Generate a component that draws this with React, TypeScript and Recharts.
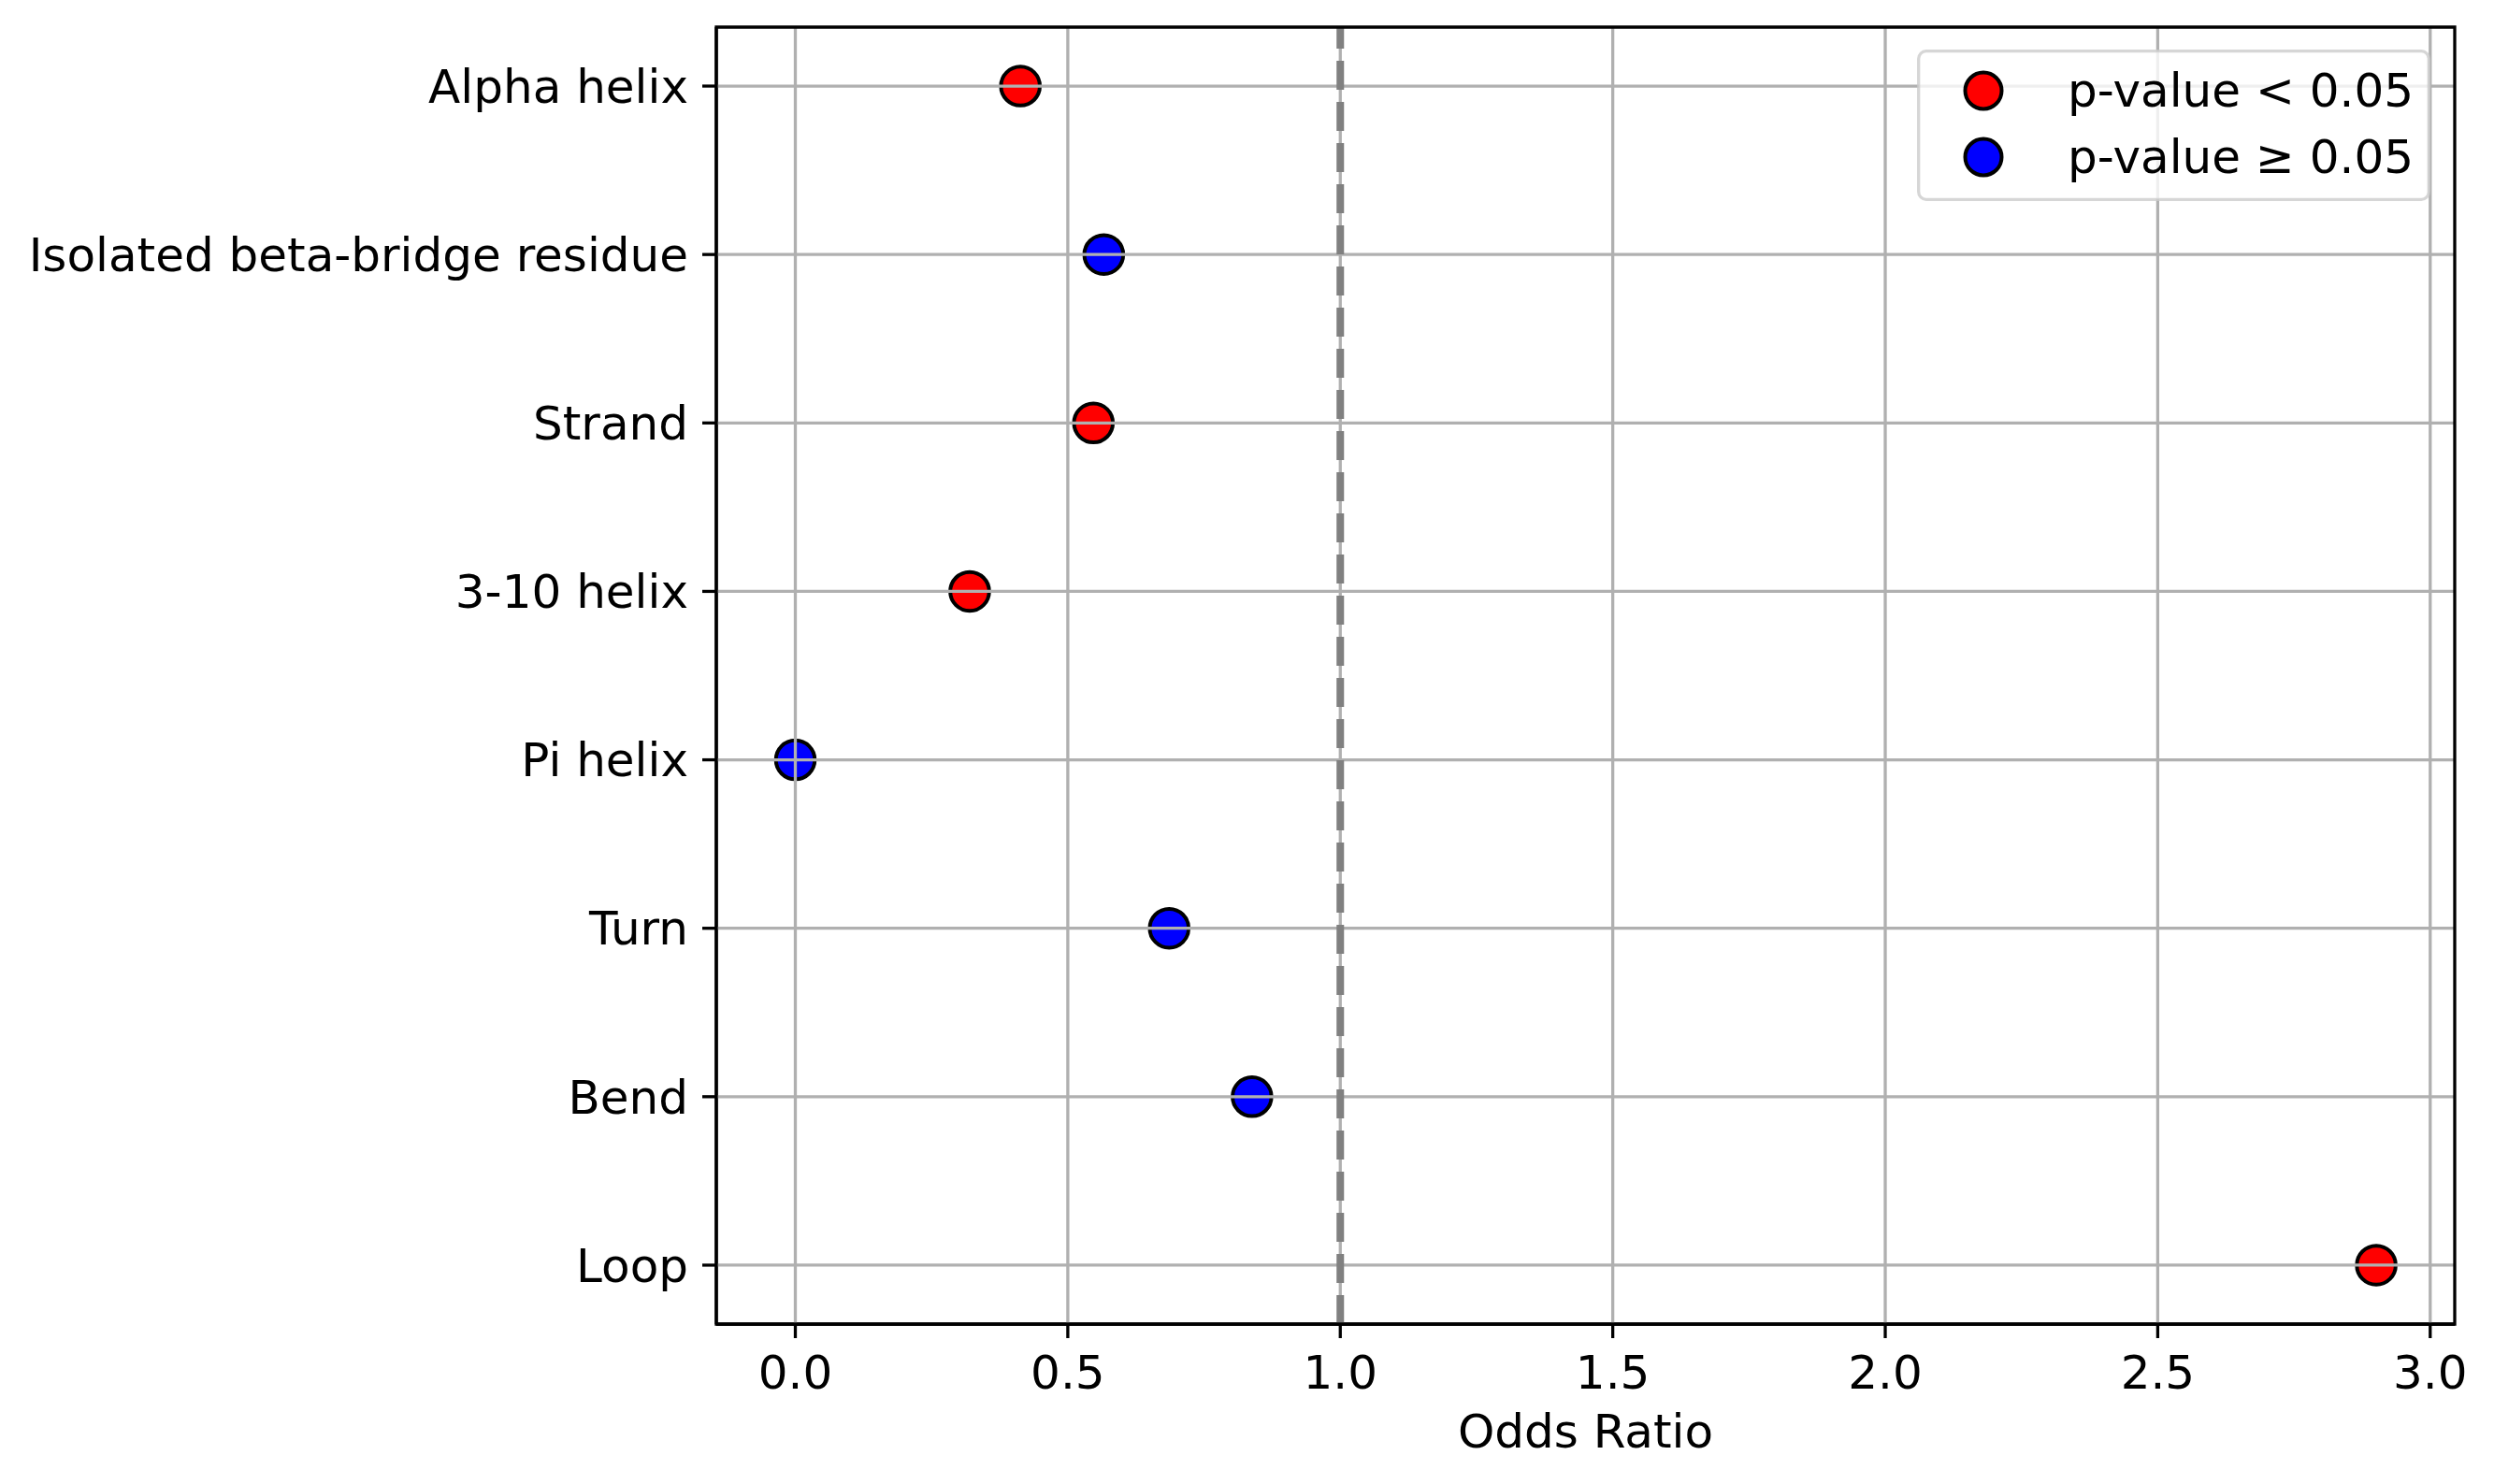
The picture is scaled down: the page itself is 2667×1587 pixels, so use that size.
import React from 'react';
import {
  Legend,
  ReferenceArea,
  ReferenceLine,
  Scatter,
  ScatterChart,
  XAxis,
  YAxis,
} from 'recharts';

const categories = [
  'Alpha helix',
  'Isolated beta-bridge residue',
  'Strand',
  '3-10 helix',
  'Pi helix',
  'Turn',
  'Bend',
  'Loop',
];
const oddsRatios = [0.413, 0.566, 0.547, 0.32, 0.0, 0.686, 0.838, 2.901];
const significant = [true, false, true, true, false, false, false, true];
const xTicks = [0, 0.5, 1.0, 1.5, 2.0, 2.5, 3.0];
const yTicks = [0, 1, 2, 3, 4, 5, 6, 7];
const legendLabels = ['p-value < 0.05', 'p-value \u2265 0.05'];

const FONT = '"DejaVu Sans", sans-serif';
const X_DOMAIN: [number, number] = [-0.145, 3.045];
const Y_DOMAIN: [number, number] = [-0.35, 7.35];

const points = categories.map((name, i) => ({ name, x: oddsRatios[i], y: i }));
const sigPoints = points.filter((_, i) => significant[i]);
const nonSigPoints = points.filter((_, i) => !significant[i]);

const dot = (fill: string) => (props: any) => (
  <circle cx={props.cx} cy={props.cy} r={20.8} fill={fill} stroke="#000" strokeWidth={4} />
);

function LegendBox() {
  const colors = ['#ff0000', '#0000ff'];
  return (
    <svg width={549} height={162} style={{ display: 'block' }}>
      <rect
        x={1.7}
        y={1.7}
        width={545.6}
        height={158.6}
        rx={8}
        fill="#fff"
        fillOpacity={0.8}
        stroke="#cccccc"
        strokeOpacity={0.8}
        strokeWidth={3.3}
      />
      {legendLabels.map((label, i) => (
        <g key={label}>
          <circle cx={71} cy={44 + i * 71} r={19.5} fill={colors[i]} stroke="#000" strokeWidth={4} />
          <text x={161} y={61 + i * 71} fontSize={50} fontFamily={FONT} fill="#000">
            {label}
          </text>
        </g>
      ))}
    </svg>
  );
}

export default function App() {
  return (
    <div style={{ position: 'absolute', left: 0, top: 0, width: 2667, height: 1587, background: '#fff' }}>
      <ScatterChart width={2667} height={1587} margin={{ top: 29, right: 42, bottom: 0, left: 0 }}>
        <XAxis
          type="number"
          dataKey="x"
          domain={X_DOMAIN}
          allowDataOverflow
          ticks={xTicks}
          interval={0}
          tickFormatter={(v: number) => v.toFixed(1)}
          height={171}
          tickSize={15}
          tickMargin={18}
          tick={{ fill: '#000', fontSize: 50, fontFamily: FONT }}
          tickLine={{ stroke: '#000', strokeWidth: 3.3 }}
          axisLine={{ stroke: '#000', strokeWidth: 3.3 }}
          label={{
            value: 'Odds Ratio',
            position: 'insideBottom',
            offset: 39,
            fill: '#000',
            fontSize: 50,
            fontFamily: FONT,
          }}
        />
        <YAxis
          type="number"
          dataKey="y"
          domain={Y_DOMAIN}
          allowDataOverflow
          reversed
          ticks={yTicks}
          interval={0}
          tickFormatter={(v: number) => categories[v] ?? ''}
          width={766}
          tickSize={15}
          tickMargin={15}
          tick={{ fill: '#000', fontSize: 50, fontFamily: FONT }}
          tickLine={{ stroke: '#000', strokeWidth: 3.3 }}
          axisLine={{ stroke: '#000', strokeWidth: 3.3 }}
        />
        <Scatter
          name={legendLabels[0]}
          data={sigPoints}
          fill="#ff0000"
          shape={dot('#ff0000')}
          isAnimationActive={false}
        />
        <Scatter
          name={legendLabels[1]}
          data={nonSigPoints}
          fill="#0000ff"
          shape={dot('#0000ff')}
          isAnimationActive={false}
        />
        {xTicks.map((t) => (
          <ReferenceLine key={`gx${t}`} x={t} stroke="#b0b0b0" strokeWidth={3.3} zIndex={650} />
        ))}
        {yTicks.map((t) => (
          <ReferenceLine key={`gy${t}`} y={t} stroke="#b0b0b0" strokeWidth={3.3} zIndex={650} />
        ))}
        <ReferenceLine x={1} stroke="#808080" strokeWidth={8} strokeDasharray="31 13" zIndex={660} />
        <ReferenceArea
          x1={X_DOMAIN[0]}
          x2={X_DOMAIN[1]}
          y1={Y_DOMAIN[0]}
          y2={Y_DOMAIN[1]}
          fill="none"
          fillOpacity={0}
          stroke="#000"
          strokeWidth={3.3}
          zIndex={700}
        />
        <Legend
          layout="vertical"
          align="center"
          verticalAlign="middle"
          content={() => <LegendBox />}
          wrapperStyle={{ left: 2050, top: 53, width: 549, height: 162 }}
        />
      </ScatterChart>
    </div>
  );
}
